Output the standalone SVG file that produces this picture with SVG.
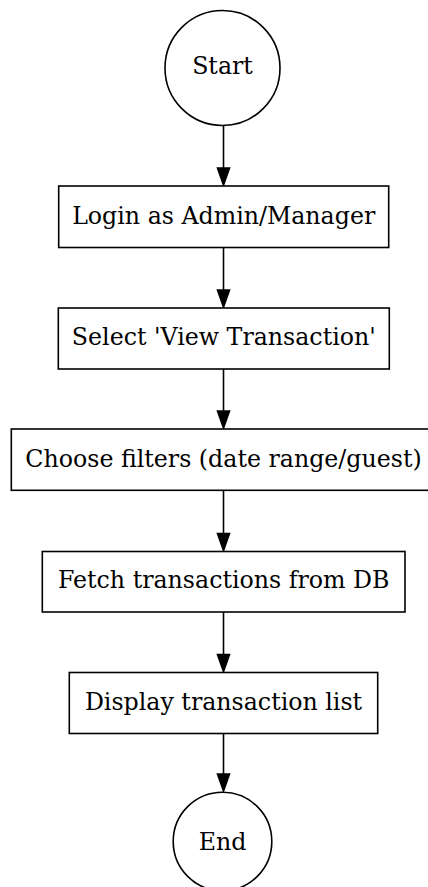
<svg xmlns="http://www.w3.org/2000/svg" width="428" height="887" viewBox="0 0 428 887">
  <style>
    .shape { fill: #ffffff; stroke: #000000; stroke-width: 1.6; }
    .label { font-family: "DejaVu Serif", "Liberation Serif", serif; font-size: 23.7px; fill: #000000; text-anchor: middle; }
    .edge { fill: none; stroke: #000000; stroke-width: 1.6; }
    .head { fill: #000000; stroke: #000000; stroke-width: 1.6; }
  </style>
  <rect width="428" height="887" fill="#ffffff"/>

  <g id="edges">
    <path class="edge" d="M223.5,126 V168" />
    <polygon class="head" points="217.5,168 229.5,168 223.5,185" />
    <path class="edge" d="M223.5,247.5 V290" />
    <polygon class="head" points="217.5,290 229.5,290 223.5,307" />
    <path class="edge" d="M223.5,369 V411" />
    <polygon class="head" points="217.5,411 229.5,411 223.5,428" />
    <path class="edge" d="M223.5,490.5 V533.5" />
    <polygon class="head" points="217.5,533.5 229.5,533.5 223.5,550.5" />
    <path class="edge" d="M223.5,612 V654.5" />
    <polygon class="head" points="217.5,654.5 229.5,654.5 223.5,671.5" />
    <path class="edge" d="M223.5,733.5 V774" />
    <polygon class="head" points="217.5,774 229.5,774 223.5,791" />
  </g>

  <g id="start">
    <circle class="shape" cx="222.5" cy="68" r="57.5"/>
    <text class="label" x="222.5" y="74">Start</text>
  </g>
  <g id="login">
    <rect class="shape" x="58.7" y="186" width="330" height="61.5"/>
    <text class="label" x="223.7" y="223.5">Login as Admin/Manager</text>
  </g>
  <g id="select">
    <rect class="shape" x="58.3" y="308" width="331" height="61"/>
    <text class="label" x="223.8" y="344.8">Select 'View Transaction'</text>
  </g>
  <g id="filters">
    <rect class="shape" x="11.3" y="429" width="424" height="61.3"/>
    <text class="label" x="223.5" y="466.8">Choose filters (date range/guest)</text>
  </g>
  <g id="fetch">
    <rect class="shape" x="42.3" y="551.5" width="362.7" height="60.5"/>
    <text class="label" x="223.7" y="587.8">Fetch transactions from DB</text>
  </g>
  <g id="display">
    <rect class="shape" x="69.3" y="672.5" width="308.4" height="61"/>
    <text class="label" x="223.5" y="709.5">Display transaction list</text>
  </g>
  <g id="end">
    <circle class="shape" cx="222.5" cy="841.5" r="49.3"/>
    <text class="label" x="222.5" y="849.5">End</text>
  </g>
</svg>
